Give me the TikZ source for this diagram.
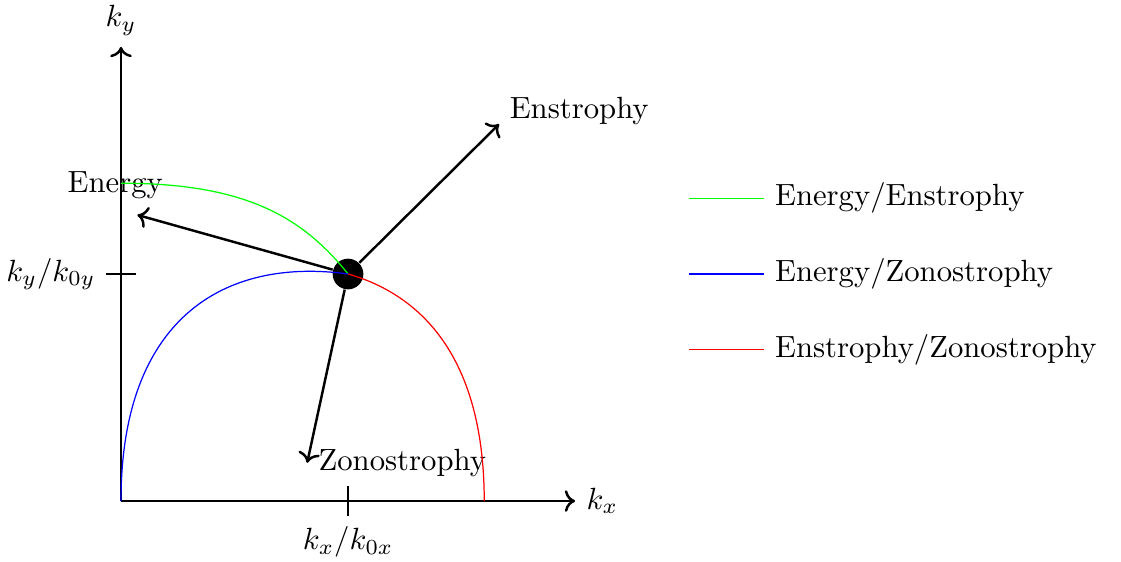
\documentclass[tikz,border=0pt]{standalone}
\usetikzlibrary{arrows.meta,positioning}
\tikzset{
  axis/.style={thick,->},
  flux/.style={thick,->},
  dot/.style={circle,fill=black,minimum size=10pt,inner sep=0pt},
  legline/.style={draw=#1},
}
\begin{document}
\begin{tikzpicture}[scale=1.3]
    \useasboundingbox (-1.066,-0.537) rectangle (8.81,4.414);
    % axes and ticks
    \coordinate (o) at (0,0);
    \coordinate (xe) at (4,0);
    \coordinate (ye) at (0,4);
    \draw[axis] (o) -- (xe) node[right] (kx) {$k_x$};
    \draw[axis] (o) -- (ye) node[above] (ky) {$k_y$};
    \draw (2,0.13) -- (2,-0.13) node[below] (kxt) {$k_x/k_{0x}$};
    \draw (0.13,2) -- (-0.13,2) node[left] (kyt) {$k_y/k_{0y}$};
    % state and fluxes
    \node[dot] (s) at (2,2) {};
    \coordinate (enT) at (0.144,2.52);
    \coordinate (ensT) at (3.33,3.32);
    \coordinate (zonT) at (1.64,0.337);
    \draw[flux] (s) -- (enT);
    \draw[flux] (s) -- (ensT);
    \draw[flux] (s) -- (zonT) node[right] (zonL) {Zonostrophy};
    \node (enL) at (-0.05,2.78) {Energy};
    \node[right] (ensL) at (3.33,3.44) {Enstrophy};
    % boundaries
    \draw[green] (0,2.8) .. controls (1.1,2.8) and (1.6,2.5) .. (s.center);
    \draw[blue] (o) .. controls (0,1.6) and (0.9,2.15) .. (s.center);
    \draw[red] (s.center) .. controls (2.7,1.8) and (3.2,1.2) .. (3.2,0);
    % legend
    \foreach \y/\c/\t [count=\i] in {2.667/green/{Energy/Enstrophy},2/blue/{Energy/Zonostrophy},1.333/red/{Enstrophy/Zonostrophy}}
      \draw[legline=\c] (5,\y) -- (5.667,\y) node[right,text=black] (leg\i) {\t};
\end{tikzpicture}
\end{document}
